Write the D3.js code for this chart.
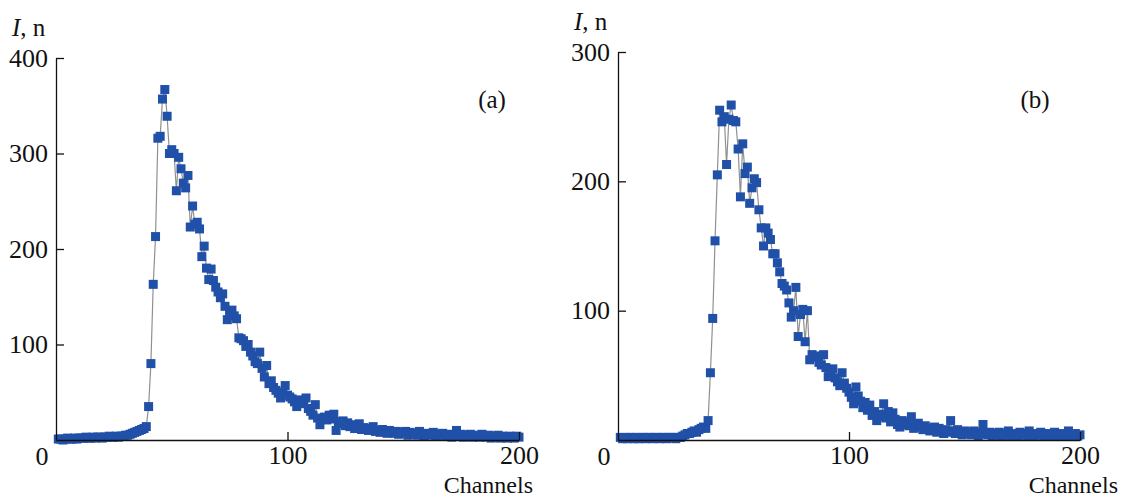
<!DOCTYPE html>
<html>
<head>
<meta charset="utf-8">
<script src="https://cdn.jsdelivr.net/npm/d3@7"></script>
<style>
  body { margin: 0; background: #fff; }
  svg text { font-family: "Liberation Serif", "Times New Roman", "DejaVu Serif", serif; }
</style>
</head>
<body>
<script>
// channel numbers 1..200
let channels = d3.range(1, 201);

// panel (a) counts, ch 1..200
let countsA = [
  1, 1, 0, 1, 2, 1, 1, 2, 1, 2,
  2, 2, 3, 2, 2, 3, 2, 3, 3, 2,
  3, 3, 4, 3, 3, 4, 3, 4, 4, 5,
  5, 6, 7, 8, 9, 10, 11, 12, 14, 35,
  80, 163, 213, 316, 318, 357, 367, 339, 300, 304,
  300, 261, 296, 284, 269, 264, 277, 223, 245, 226,
  228, 221, 192, 203, 180, 168, 179, 167, 160, 155,
  149, 153, 140, 126, 132, 136, 130, 127, 107, 106,
  104, 98, 100, 92, 88, 82, 80, 92, 75, 66,
  78, 59, 62, 55, 52, 49, 44, 50, 57, 47,
  45, 43, 40, 35, 42, 38, 40, 44, 33, 30,
  26, 37, 23, 16, 22, 24, 21, 26, 22, 27,
  10, 19, 17, 20, 15, 18, 14, 16, 12, 15,
  17, 11, 13, 12, 10, 11, 14, 9, 10, 8,
  11, 9, 7, 10, 8, 7, 9, 6, 8, 7,
  9, 5, 8, 6, 7, 5, 9, 6, 4, 7,
  5, 6, 8, 4, 6, 5, 7, 4, 5, 6,
  3, 5, 10, 4, 6, 3, 5, 4, 6, 3,
  5, 4, 3, 6, 4, 3, 5, 2, 4, 3,
  5, 2, 4, 3, 2, 4, 3, 2, 4, 3
];

// panel (b) counts, ch 1..200
let countsB = [
  2, 1, 2, 1, 2, 2, 1, 2, 1, 2,
  2, 1, 2, 2, 1, 2, 2, 1, 2, 2,
  1, 2, 2, 2, 1, 2, 2, 3, 4, 5,
  5, 6, 7, 6, 8, 9, 10, 9, 15, 52,
  94, 154, 205, 255, 246, 250, 213, 248, 259, 247,
  246, 225, 188, 229, 206, 211, 183, 195, 202, 199,
  178, 164, 150, 164, 160, 155, 144, 144, 137, 130,
  121, 119, 116, 106, 95, 100, 118, 80, 97, 101,
  76, 100, 62, 66, 64, 65, 60, 58, 66, 56,
  49, 52, 55, 48, 45, 42, 52, 44, 40, 37,
  33, 28, 41, 34, 30, 25, 29, 23, 27, 19,
  22, 15, 18, 20, 28, 17, 22, 14, 21, 16,
  12, 10, 15, 12, 14, 11, 18, 9, 12, 13,
  10, 8, 11, 9, 7, 8, 10, 6, 9, 7,
  5, 8, 6, 15, 7, 5, 8, 6, 4, 7,
  5, 6, 4, 7, 5, 3, 6, 12, 5, 4,
  6, 3, 5, 4, 6, 3, 5, 4, 7, 3,
  5, 4, 3, 6, 4, 5, 3, 7, 4, 3,
  5, 4, 6, 3, 4, 5, 3, 4, 6, 3,
  4, 5, 3, 4, 7, 3, 4, 5, 3, 4
];

let xTicks = [100, 200];
let yTicksA = [100, 200, 300, 400];
let yTicksB = [100, 200, 300];
let panelNames = ["(a)", "(b)"];

let width = 1123, height = 498;
let serif = '"Liberation Serif", "Times New Roman", serif';
let svg = d3.select('body').append('svg')
    .attr('width', width)
    .attr('height', height)
    .style('display', 'block');

let drawPanel = function(p) {
    let x = d3.scaleLinear().domain([0, 200]).range([p.left, p.right]);
    let y = d3.scaleLinear().domain([0, p.yMax]).range([p.bottom, p.top]);
    let g = svg.append('g');

    // thin grey line through the points
    let line = d3.line()
        .x(function(d, i) { return x(channels[i]); })
        .y(function(d) { return y(d); });
    g.append('path')
        .datum(p.counts)
        .attr('d', line)
        .attr('fill', 'none')
        .attr('stroke', '#909090')
        .attr('stroke-width', 1.2);

    // square markers
    let s = 9;
    g.selectAll('rect.pt')
        .data(p.counts)
        .enter()
        .append('rect')
        .attr('class', 'pt')
        .attr('x', function(d, i) { return x(channels[i]) - s / 2; })
        .attr('y', function(d) { return y(d) - s / 2; })
        .attr('width', s)
        .attr('height', s)
        .attr('fill', '#2150a8');

    // axes, ticks pointing inward
    let axisX = d3.axisBottom(x).tickValues(xTicks).tickSizeInner(-8).tickSizeOuter(0).tickPadding(6);
    let axisY = d3.axisLeft(y).tickValues(p.yTicks).tickSizeInner(-8).tickSizeOuter(0).tickPadding(8);
    let gx = g.append('g').attr('transform', `translate(0,${p.bottom})`).call(axisX);
    let gy = g.append('g').attr('transform', `translate(${p.left},0)`).call(axisY);
    [gx, gy].forEach(function(a) {
        a.attr('font-family', serif).attr('font-size', 26);
        a.selectAll('path, line').attr('stroke', '#111').attr('stroke-width', 1.3);
        a.selectAll('text').attr('fill', '#111').style('font-family', serif).style('font-size', '26px');
    });

    // shared origin label
    g.append('text')
        .attr('x', p.left - 14)
        .attr('y', p.bottom + 24.5)
        .attr('text-anchor', 'middle')
        .style('font-family', serif)
        .style('font-size', '26px')
        .attr('fill', '#111')
        .text('0');

    g.append('text')
        .attr('x', p.chanX)
        .attr('y', p.bottom + 52.5)
        .attr('text-anchor', 'end')
        .style('font-family', serif)
        .style('font-size', '24px')
        .attr('fill', '#111')
        .text('Channels');

    let yl = g.append('text')
        .attr('x', p.left - 44)
        .attr('y', p.yLabelY)
        .style('font-family', serif)
        .style('font-size', '25px')
        .attr('fill', '#111');
    yl.append('tspan').style('font-style', 'italic').text('I');
    yl.append('tspan').text(', n');

    g.append('text')
        .attr('x', p.tagX)
        .attr('y', 108)
        .attr('text-anchor', 'middle')
        .style('font-family', serif)
        .style('font-size', '25px')
        .attr('fill', '#111')
        .text(p.name);
};

drawPanel({counts: countsA, yMax: 400, yTicks: yTicksA, name: panelNames[0],
    left: 56, right: 519, top: 58, bottom: 440, yLabelY: 36, tagX: 492, chanX: 533});
drawPanel({counts: countsB, yMax: 300, yTicks: yTicksB, name: panelNames[1],
    left: 618, right: 1080, top: 52, bottom: 440, yLabelY: 30, tagX: 1035, chanX: 1118});
</script>
</body>
</html>
